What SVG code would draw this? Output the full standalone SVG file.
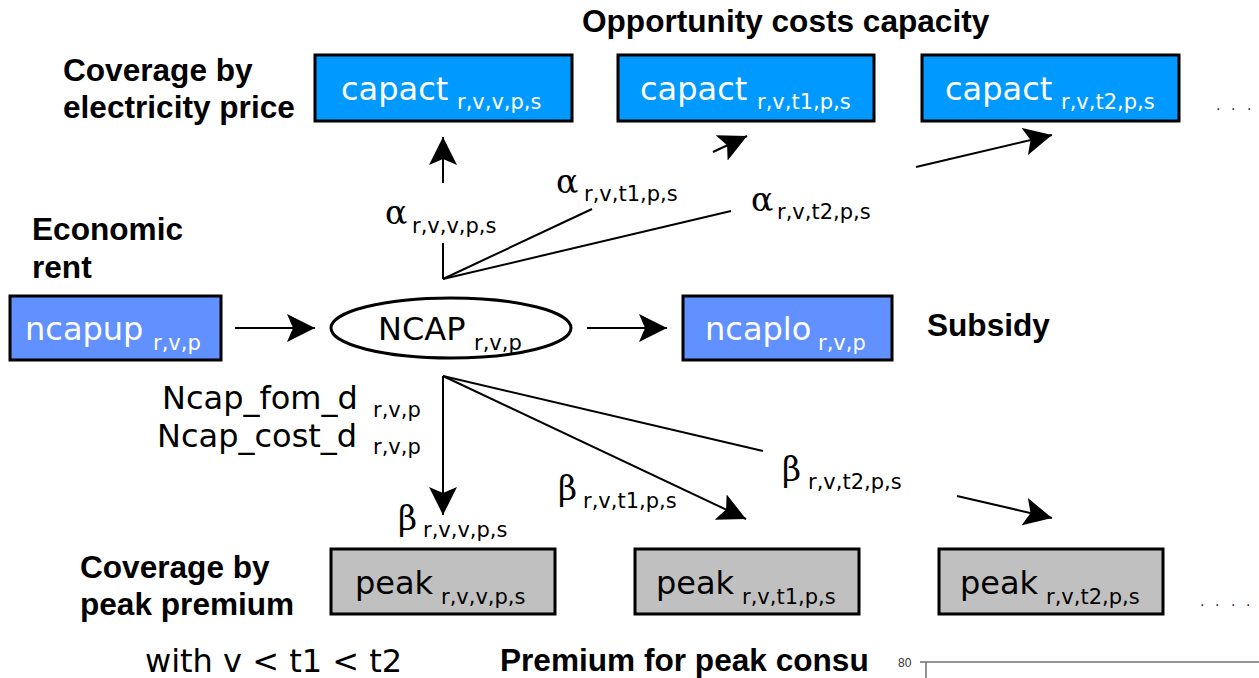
<svg xmlns="http://www.w3.org/2000/svg" width="1259" height="678" viewBox="0 0 1259 678">
  <style>
    .bold { font-family: "Liberation Sans", Arial, sans-serif; font-weight: bold; font-size: 31.6px; fill: #000; }
    .lbl { font-family: "DejaVu Sans", "Liberation Sans", sans-serif; font-size: 32px; fill: #000; }
    .wht { fill: #fff; }
    .sub { font-size: 21px; }
    .greek { font-family: "DejaVu Serif", "Liberation Serif", serif; font-size: 33px; }
    .dots { font-family: "DejaVu Sans", sans-serif; font-size: 14px; fill: #222; }
    .cap { fill: #0099ff; stroke: #000; stroke-width: 3; }
    .nc { fill: #6190ff; stroke: #000; stroke-width: 3; }
    .pk { fill: #c0c0c0; stroke: #000; stroke-width: 3; }
    .ln { stroke: #000; stroke-width: 2; fill: none; }
  </style>
  <defs>
    <marker id="head" markerUnits="userSpaceOnUse" markerWidth="28" markerHeight="28" viewBox="0 0 28 28" refX="28" refY="14" orient="auto">
      <path d="M0,0 L28,14 L0,28 L6,14 Z" fill="#000"/>
    </marker>
  </defs>

  <rect width="1259" height="678" fill="#fff"/>

  <!-- side captions -->
  <g id="captions">
    <text class="bold" x="582" y="32">Opportunity costs capacity</text>
    <text class="bold" x="63" y="81">Coverage by</text>
    <text class="bold" x="63" y="118">electricity price</text>
    <text class="bold" x="32" y="240">Economic</text>
    <text class="bold" x="32" y="278">rent</text>
    <text class="bold" x="927" y="336">Subsidy</text>
    <text class="bold" x="80" y="578">Coverage by</text>
    <text class="bold" x="80" y="615">peak premium</text>
    <text class="bold" x="500" y="671">Premium for peak consu</text>
    <text class="lbl" x="145" y="672">with v &lt; t1 &lt; t2</text>
    <text class="dots" x="1216 1231 1247" y="110">...</text>
    <text class="dots" x="1200 1215 1231 1246" y="606">....</text>
  </g>

  <!-- connectors -->
  <g id="connectors">
    <line class="ln" x1="235" y1="328" x2="315" y2="328" marker-end="url(#head)"/>
    <line class="ln" x1="587" y1="328" x2="667" y2="328" marker-end="url(#head)"/>
    <!-- capacity shares -->
    <line class="ln" x1="443" y1="279" x2="443" y2="243"/>
    <line class="ln" x1="443" y1="183" x2="443" y2="137" marker-end="url(#head)"/>
    <line class="ln" x1="443" y1="279" x2="592" y2="209"/>
    <line class="ln" x1="713" y1="152" x2="747" y2="136" marker-end="url(#head)"/>
    <line class="ln" x1="443" y1="279" x2="731" y2="211"/>
    <line class="ln" x1="916" y1="167" x2="1052" y2="135" marker-end="url(#head)"/>
    <!-- peak shares -->
    <line class="ln" x1="443" y1="376" x2="443" y2="515" marker-end="url(#head)"/>
    <line class="ln" x1="443" y1="376" x2="746" y2="519" marker-end="url(#head)"/>
    <line class="ln" x1="443" y1="376" x2="763" y2="451"/>
    <line class="ln" x1="957" y1="496" x2="1052" y2="518" marker-end="url(#head)"/>
  </g>

  <!-- connector labels -->
  <g id="labels">
    <text class="lbl" x="385" y="224"><tspan class="greek">α</tspan></text>
    <text class="lbl sub" x="412" y="233">r,v,v,p,s</text>
    <text class="lbl" x="556" y="193"><tspan class="greek">α</tspan></text>
    <text class="lbl sub" x="584" y="201">r,v,t1,p,s</text>
    <text class="lbl" x="751" y="211"><tspan class="greek">α</tspan></text>
    <text class="lbl sub" x="777" y="219">r,v,t2,p,s</text>
    <text class="lbl" x="162" y="409">Ncap_fom_d</text>
    <text class="lbl sub" x="373" y="417">r,v,p</text>
    <text class="lbl" x="157" y="447">Ncap_cost_d</text>
    <text class="lbl sub" x="373" y="454">r,v,p</text>
    <text class="lbl" x="398" y="530"><tspan class="greek">β</tspan></text>
    <text class="lbl sub" x="423" y="537">r,v,v,p,s</text>
    <text class="lbl" x="558" y="500"><tspan class="greek">β</tspan></text>
    <text class="lbl sub" x="583" y="508">r,v,t1,p,s</text>
    <text class="lbl" x="782" y="481"><tspan class="greek">β</tspan></text>
    <text class="lbl sub" x="808" y="489">r,v,t2,p,s</text>
  </g>

  <g id="capact_v">
    <rect class="cap" x="315" y="55" width="257" height="66"/>
    <text class="lbl wht" x="341" y="100">capact</text>
    <text class="lbl sub wht" x="457" y="109">r,v,v,p,s</text>
  </g>
  <g id="capact_t1">
    <rect class="cap" x="618" y="55" width="256" height="66"/>
    <text class="lbl wht" x="640" y="100">capact</text>
    <text class="lbl sub wht" x="757" y="109">r,v,t1,p,s</text>
  </g>
  <g id="capact_t2">
    <rect class="cap" x="922" y="55" width="257" height="66"/>
    <text class="lbl wht" x="945" y="100">capact</text>
    <text class="lbl sub wht" x="1061" y="109">r,v,t2,p,s</text>
  </g>

  <g id="ncapup">
    <rect class="nc" x="10" y="296" width="211" height="64"/>
    <text class="lbl wht" x="25" y="340">ncapup</text>
    <text class="lbl sub wht" x="153" y="350">r,v,p</text>
  </g>
  <g id="ncap">
    <ellipse cx="451" cy="328" rx="120" ry="30" fill="#fff" stroke="#000" stroke-width="3"/>
    <text class="lbl" x="378" y="340">NCAP</text>
    <text class="lbl sub" x="474" y="350">r,v,p</text>
  </g>
  <g id="ncaplo">
    <rect class="nc" x="683" y="296" width="209" height="64"/>
    <text class="lbl wht" x="705" y="340">ncaplo</text>
    <text class="lbl sub wht" x="818" y="350">r,v,p</text>
  </g>

  <g id="peak_v">
    <rect class="pk" x="331" y="549" width="224" height="65"/>
    <text class="lbl" x="355" y="594">peak</text>
    <text class="lbl sub" x="441" y="604">r,v,v,p,s</text>
  </g>
  <g id="peak_t1">
    <rect class="pk" x="635" y="549" width="224" height="65"/>
    <text class="lbl" x="656" y="594">peak</text>
    <text class="lbl sub" x="742" y="604">r,v,t1,p,s</text>
  </g>
  <g id="peak_t2">
    <rect class="pk" x="939" y="549" width="224" height="65"/>
    <text class="lbl" x="960" y="594">peak</text>
    <text class="lbl sub" x="1046" y="604">r,v,t2,p,s</text>
  </g>

  <!-- corner of a neighbouring chart -->
  <g id="chart_corner">
    <text x="898" y="667" font-family="Liberation Sans, Arial, sans-serif" font-size="12" fill="#333">80</text>
    <line x1="920" y1="662" x2="1259" y2="662" stroke="#707070" stroke-width="1.5"/>
    <line x1="926" y1="662" x2="926" y2="678" stroke="#707070" stroke-width="1.5"/>
  </g>
</svg>
